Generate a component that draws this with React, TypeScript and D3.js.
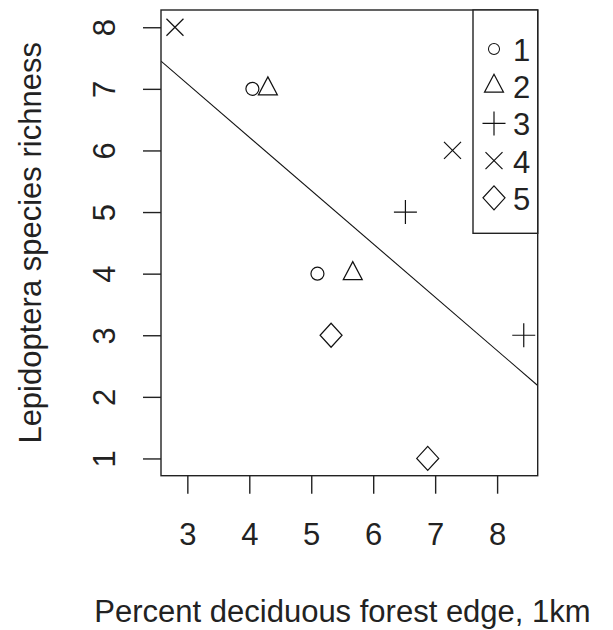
import React, { useEffect, useRef } from 'react';
import * as d3 from 'd3';

// data
const edgePct = [2.8, 4.05, 4.3, 7.28, 6.52, 5.1, 5.67, 5.32, 8.43, 6.88];
const richness = [8, 7, 7, 6, 5, 4, 4, 3, 3, 1];
const groups = [4, 1, 2, 4, 3, 1, 2, 5, 3, 5];
const legendLabels = ['1', '2', '3', '4', '5'];
const xTicks = [3, 4, 5, 6, 7, 8];
const yTicks = [1, 2, 3, 4, 5, 6, 7, 8];

const W = 613;
const H = 630;
const FONT = '"Liberation Sans", Arial, sans-serif';
const FS = 31;

// R-like pch symbols as path strings centred at 0,0
const symbolPath = (g: number) => {
  switch (g) {
    case 1:
      return 'M6.5,0A6.5,6.5 0 1,1 -6.5,0A6.5,6.5 0 1,1 6.5,0Z';
    case 2:
      return 'M0,-12L9.5,6L-9.5,6Z';
    case 3:
      return 'M-11.5,0L11.5,0M0,-12L0,12';
    case 4:
      return 'M-8.5,-8.5L8.5,8.5M-8.5,8.5L8.5,-8.5';
    default:
      return 'M0,-12L11,0L0,12L-11,0Z';
  }
};

const App = () => {
  const ref = useRef<SVGSVGElement | null>(null);

  useEffect(() => {
    document.body.style.margin = '0';
    const svg = d3.select(ref.current);
    svg.selectAll('*').remove();

    const left = 161, right = 537.7, top = 10, bottom = 475.7;

    // R pads the data range by 4% on each side
    const pad = (ext: [number, number]) => {
      const r = ext[1] - ext[0];
      return [ext[0] - 0.04 * r, ext[1] + 0.04 * r];
    };
    const x = d3.scaleLinear().domain(pad(d3.extent(edgePct) as [number, number])).range([left, right]);
    const y = d3.scaleLinear().domain(pad(d3.extent(richness) as [number, number])).range([bottom, top]);

    svg.append('defs').append('clipPath').attr('id', 'plotClip')
      .append('rect').attr('x', left).attr('y', top)
      .attr('width', right - left).attr('height', bottom - top);

    // least squares fit (abline(lm(...)))
    const mx = d3.mean(edgePct) as number;
    const my = d3.mean(richness) as number;
    let sxy = 0, sxx = 0;
    edgePct.forEach((v, i) => {
      sxy += (v - mx) * (richness[i] - my);
      sxx += (v - mx) * (v - mx);
    });
    const slope = sxy / sxx;
    const icpt = my - slope * mx;
    const [d0, d1] = x.domain();
    svg.append('line')
      .attr('clip-path', 'url(#plotClip)')
      .attr('x1', x(d0)).attr('y1', y(icpt + slope * d0))
      .attr('x2', x(d1)).attr('y2', y(icpt + slope * d1))
      .attr('stroke', '#111').attr('stroke-width', 1.1);

    // points
    svg.append('g')
      .selectAll('path')
      .data(edgePct.map((v, i) => ({ x: v, y: richness[i], g: groups[i] })))
      .enter()
      .append('path')
      .attr('transform', d => 'translate(' + x(d.x) + ',' + y(d.y) + ')')
      .attr('d', d => symbolPath(d.g))
      .attr('fill', 'none')
      .attr('stroke', '#111')
      .attr('stroke-width', 1.2);

    // box
    svg.append('rect')
      .attr('x', left).attr('y', top)
      .attr('width', right - left).attr('height', bottom - top)
      .attr('fill', 'none').attr('stroke', '#222').attr('stroke-width', 1.4);

    // x axis
    const xAxis = svg.append('g').attr('transform', 'translate(0,' + bottom + ')')
      .call(d3.axisBottom(x).tickValues(xTicks).tickSize(18).tickPadding(0).tickFormat(d3.format('d')));
    xAxis.select('.domain').remove();
    xAxis.selectAll('line').attr('stroke', '#222').attr('stroke-width', 1.4);
    xAxis.selectAll('text')
      .attr('y', 69).attr('dy', null)
      .attr('font-family', FONT).attr('font-size', FS).attr('fill', '#222');

    // y axis, labels rotated like R's las=0
    const yAxis = svg.append('g').attr('transform', 'translate(' + left + ',0)')
      .call(d3.axisLeft(y).tickValues(yTicks).tickSize(18).tickFormat(d3.format('d')));
    yAxis.select('.domain').remove();
    yAxis.selectAll('line').attr('stroke', '#222').attr('stroke-width', 1.4);
    yAxis.selectAll('text')
      .attr('x', null).attr('dy', null)
      .attr('text-anchor', 'middle')
      .attr('transform', 'translate(-46,0) rotate(-90)')
      .attr('font-family', FONT).attr('font-size', FS).attr('fill', '#222');

    // axis titles
    svg.append('text')
      .attr('x', 342.5).attr('y', 621.5)
      .attr('text-anchor', 'middle')
      .attr('font-family', FONT).attr('font-size', FS).attr('fill', '#222')
      .text('Percent deciduous forest edge, 1km');

    svg.append('text')
      .attr('transform', 'translate(41,' + (top + bottom) / 2 + ') rotate(-90)')
      .attr('text-anchor', 'middle')
      .attr('font-family', FONT).attr('font-size', FS).attr('fill', '#222')
      .text('Lepidoptera species richness');

    // legend, top right
    const lg = svg.append('g');
    lg.append('rect')
      .attr('x', 473).attr('y', top)
      .attr('width', right - 473).attr('height', 223.3)
      .attr('fill', 'white').attr('stroke', '#222').attr('stroke-width', 1.4);
    const item = lg.selectAll('g.item')
      .data(legendLabels)
      .enter()
      .append('g')
      .attr('class', 'item')
      .attr('transform', (d, i) => 'translate(494,' + (49 + i * 37.2) + ')');
    item.append('path')
      .attr('d', (d, i) => symbolPath(i + 1))
      .attr('transform', (d, i) => (i === 0 ? 'scale(0.85)' : null))
      .attr('fill', 'none').attr('stroke', '#111').attr('stroke-width', 1.2);
    item.append('text')
      .attr('x', 19).attr('y', 12)
      .attr('font-family', FONT).attr('font-size', FS).attr('fill', '#222')
      .text(d => d);
  }, []);

  return <svg ref={ref} width={W} height={H} style={{ display: 'block', background: 'white' }} />;
};

export default App;
